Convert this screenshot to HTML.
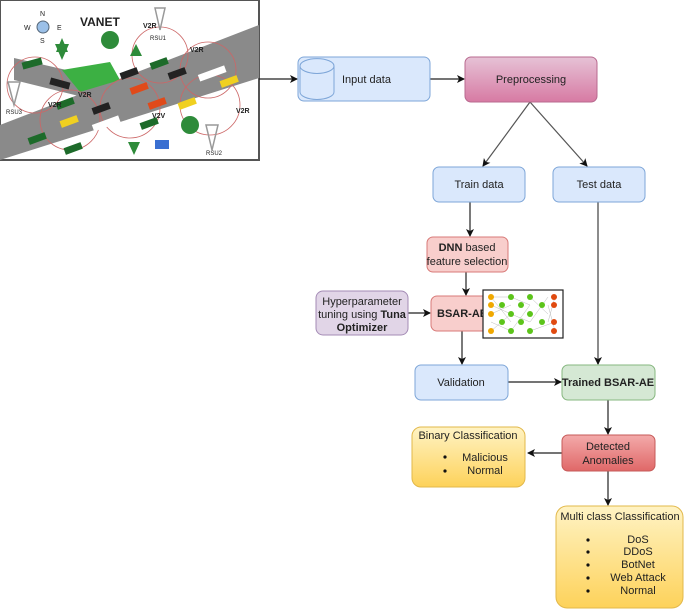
<!DOCTYPE html>
<html><head><meta charset="utf-8"><style>
html,body{margin:0;padding:0;background:#fff}
svg{display:block}
text{font-family:"Liberation Sans",sans-serif;fill:#222}
</style></head><body>
<svg width="685" height="613" viewBox="0 0 685 613" xmlns="http://www.w3.org/2000/svg">
<defs>
<marker id="a" markerWidth="8" markerHeight="8" refX="7" refY="4" orient="auto" markerUnits="userSpaceOnUse"><path d="M0,0 L8,4 L0,8 L2,4 Z" fill="#111"/></marker>
<linearGradient id="pp" x1="0" y1="0" x2="0" y2="1"><stop offset="0" stop-color="#e6c2d6"/><stop offset="1" stop-color="#d77aa3"/></linearGradient>
<linearGradient id="rd" x1="0" y1="0" x2="0" y2="1"><stop offset="0" stop-color="#f3aaaa"/><stop offset="1" stop-color="#e06868"/></linearGradient>
<linearGradient id="yl" x1="0" y1="0" x2="0" y2="1"><stop offset="0" stop-color="#fff3c4"/><stop offset="1" stop-color="#fdd25a"/></linearGradient>
</defs>
<!-- VANET image -->
<rect x="0" y="0" width="259" height="160" fill="#fff" stroke="#555" stroke-width="2"/>
<polygon points="0,125 259,25 259,78 0,160" fill="#8a8a8a"/>
<polygon points="14,58 110,80 95,100 14,80" fill="#8a8a8a"/>
<polygon points="62,70 110,62 120,80 80,92" fill="#3cb043"/>
<g fill="none" stroke="#c66" stroke-width="0.8">
<circle cx="160" cy="55" r="28"/><circle cx="208" cy="70" r="28"/><circle cx="210" cy="105" r="30"/><circle cx="70" cy="120" r="30"/><circle cx="130" cy="108" r="30"/><circle cx="35" cy="85" r="28"/>
</g>
<g>
<rect x="22" y="60" width="20" height="7" fill="#1d6b2a" transform="rotate(-15 32 63)"/>
<rect x="50" y="80" width="20" height="7" fill="#222" transform="rotate(15 60 83)"/>
<rect x="120" y="70" width="18" height="7" fill="#222" transform="rotate(-20 129 73)"/>
<rect x="130" y="85" width="18" height="7" fill="#e04a1a" transform="rotate(-20 139 88)"/>
<rect x="150" y="60" width="18" height="7" fill="#1d6b2a" transform="rotate(-20 159 63)"/>
<rect x="168" y="70" width="18" height="7" fill="#222" transform="rotate(-20 177 73)"/>
<rect x="198" y="70" width="28" height="7" fill="#fff" transform="rotate(-20 212 73)"/>
<rect x="220" y="78" width="18" height="7" fill="#f0d020" transform="rotate(-20 229 81)"/>
<rect x="148" y="100" width="18" height="7" fill="#e04a1a" transform="rotate(-20 157 103)"/>
<rect x="178" y="100" width="18" height="7" fill="#f0d020" transform="rotate(-20 187 103)"/>
<rect x="60" y="118" width="18" height="7" fill="#f0d020" transform="rotate(-20 69 121)"/>
<rect x="92" y="120" width="28" height="7" fill="#fff" transform="rotate(-20 106 123)"/>
<rect x="140" y="120" width="18" height="7" fill="#1d6b2a" transform="rotate(-20 149 123)"/>
<rect x="28" y="135" width="18" height="7" fill="#1d6b2a" transform="rotate(-20 37 138)"/>
<rect x="64" y="145" width="18" height="7" fill="#1d6b2a" transform="rotate(-20 73 148)"/>
<rect x="92" y="105" width="18" height="7" fill="#222" transform="rotate(-20 101 108)"/>
<rect x="56" y="100" width="18" height="7" fill="#1d6b2a" transform="rotate(-20 65 103)"/>
</g>
<g fill="#2e8b3a"><polygon points="62,60 55,44 69,44"/><polygon points="62,38 56,52 68,52"/><circle cx="110" cy="40" r="9"/><circle cx="190" cy="125" r="9"/><polygon points="136,44 130,56 142,56"/><polygon points="134,155 128,142 140,142"/></g>
<g stroke="#999" stroke-width="1.5" fill="none"><path d="M160,30 L155,8 L165,8 Z"/><path d="M14,105 L8,82 L20,82 Z"/><path d="M212,150 L206,125 L218,125 Z"/></g>
<rect x="155" y="140" width="14" height="9" fill="#3a6fd1"/>
<circle cx="43" cy="27" r="6" fill="#9bc0e8" stroke="#567" stroke-width="1"/>
<text x="40" y="16" font-size="7" fill="#567">N</text><text x="40" y="43" font-size="7" fill="#567">S</text><text x="24" y="30" font-size="7" fill="#567">W</text><text x="57" y="30" font-size="7" fill="#567">E</text>
<text x="80" y="26" font-size="12" font-weight="bold">VANET</text>
<text x="143" y="28" font-size="7" font-weight="bold">V2R</text><text x="190" y="52" font-size="7" font-weight="bold">V2R</text>
<text x="78" y="97" font-size="7" font-weight="bold">V2R</text><text x="48" y="107" font-size="7" font-weight="bold">V2R</text>
<text x="236" y="113" font-size="7" font-weight="bold">V2R</text><text x="152" y="118" font-size="7" font-weight="bold">V2V</text>
<text x="150" y="40" font-size="6" fill="#a33">RSU1</text><text x="6" y="114" font-size="6" fill="#a33">RSU3</text><text x="206" y="155" font-size="6" fill="#a33">RSU2</text>

<!-- connectors -->
<g stroke="#222" stroke-width="1.2" fill="none">
<line x1="259" y1="79" x2="297" y2="79" marker-end="url(#a)"/>
<line x1="430" y1="79" x2="464" y2="79" marker-end="url(#a)"/>
<line x1="530" y1="102" x2="483" y2="166" stroke="#555" marker-end="url(#a)"/>
<line x1="530" y1="102" x2="587" y2="166" stroke="#555" marker-end="url(#a)"/>
<line x1="470" y1="202" x2="470" y2="236" marker-end="url(#a)"/>
<line x1="466" y1="272" x2="466" y2="295" marker-end="url(#a)"/>
<line x1="408" y1="313" x2="430" y2="313" marker-end="url(#a)"/>
<line x1="462" y1="331" x2="462" y2="364" marker-end="url(#a)"/>
<line x1="508" y1="382" x2="561" y2="382" marker-end="url(#a)"/>
<line x1="598" y1="202" x2="598" y2="364" stroke="#666" stroke-width="1.5" marker-end="url(#a)"/>
<line x1="608" y1="400" x2="608" y2="434" marker-end="url(#a)"/>
<line x1="562" y1="453" x2="528" y2="453" marker-end="url(#a)"/>
<line x1="608" y1="471" x2="608" y2="505" marker-end="url(#a)"/>
</g>

<!-- boxes -->
<rect x="298" y="57" width="132" height="44" rx="6" fill="#dae8fc" stroke="#7ea6d8"/>
<path d="M300,66 a16,7 0 0 1 34,0 v26 a16,7 0 0 1 -34,0 Z" fill="#dae8fc" stroke="#7ea6d8"/>
<path d="M300,66 a16,7 0 0 0 34,0" fill="none" stroke="#7ea6d8"/>
<text x="342" y="83" font-size="11">Input data</text>
<rect x="465" y="57" width="132" height="45" rx="6" fill="url(#pp)" stroke="#b86a8f"/>
<text x="531" y="83" font-size="11" text-anchor="middle">Preprocessing</text>
<rect x="433" y="167" width="92" height="35" rx="6" fill="#dae8fc" stroke="#7ea6d8"/>
<text x="479" y="188" font-size="11" text-anchor="middle">Train data</text>
<rect x="553" y="167" width="92" height="35" rx="6" fill="#dae8fc" stroke="#7ea6d8"/>
<text x="599" y="188" font-size="11" text-anchor="middle">Test data</text>
<rect x="427" y="237" width="81" height="35" rx="6" fill="#f8cecc" stroke="#d87a78"/>
<text x="467" y="251" font-size="11" text-anchor="middle"><tspan font-weight="bold">DNN</tspan> based</text>
<text x="467" y="265" font-size="11" text-anchor="middle">feature selection</text>
<rect x="316" y="291" width="92" height="44" rx="7" fill="#e1d5e7" stroke="#a48bb5"/>
<text x="362" y="305" font-size="11" text-anchor="middle">Hyperparameter</text>
<text x="362" y="318" font-size="11" text-anchor="middle">tuning using <tspan font-weight="bold">Tuna</tspan></text>
<text x="362" y="331" font-size="11" text-anchor="middle" font-weight="bold">Optimizer</text>
<rect x="431" y="296" width="70" height="35" rx="6" fill="#f8cecc" stroke="#d87a78"/>
<text x="437" y="317" font-size="11" font-weight="bold">BSAR-AE</text>
<!-- NN image -->
<rect x="483" y="290" width="80" height="48" fill="#fff" stroke="#222" stroke-width="1.2"/>
<g stroke="#bbb" stroke-width="0.5">
<path d="M491,297 L511,297 M491,297 L511,322 M491,305 L511,314 M491,314 L511,305 M491,322 L511,331 M491,331 L511,314 M511,297 L530,305 M511,314 L530,322 M511,331 L530,305 M530,297 L548,314 M530,322 L548,297 M530,331 L555,322 M548,305 L555,331 M548,322 L555,297"/>
</g>
<g fill="#f0a800"><circle cx="491" cy="297" r="3"/><circle cx="491" cy="305" r="3"/><circle cx="491" cy="314" r="3"/><circle cx="491" cy="331" r="3"/></g>
<g fill="#5cc41a"><circle cx="502" cy="305" r="3"/><circle cx="502" cy="322" r="3"/><circle cx="511" cy="297" r="3"/><circle cx="511" cy="314" r="3"/><circle cx="511" cy="331" r="3"/><circle cx="521" cy="305" r="3"/><circle cx="521" cy="322" r="3"/><circle cx="530" cy="297" r="3"/><circle cx="530" cy="314" r="3"/><circle cx="530" cy="331" r="3"/><circle cx="542" cy="305" r="3"/><circle cx="542" cy="322" r="3"/></g>
<g fill="#e04a10"><circle cx="554" cy="297" r="3"/><circle cx="554" cy="305" r="3"/><circle cx="554" cy="322" r="3"/><circle cx="554" cy="331" r="3"/></g>
<rect x="415" y="365" width="93" height="35" rx="6" fill="#dae8fc" stroke="#7ea6d8"/>
<text x="461" y="386" font-size="11" text-anchor="middle">Validation</text>
<rect x="562" y="365" width="93" height="35" rx="6" fill="#d5e8d4" stroke="#86b77f"/>
<text x="608" y="386" font-size="11" text-anchor="middle" font-weight="bold">Trained BSAR-AE</text>
<rect x="562" y="435" width="93" height="36" rx="6" fill="url(#rd)" stroke="#c65a58"/>
<text x="608" y="450" font-size="11" text-anchor="middle">Detected</text>
<text x="608" y="464" font-size="11" text-anchor="middle">Anomalies</text>
<rect x="412" y="427" width="113" height="60" rx="9" fill="url(#yl)" stroke="#e2b84a"/>
<text x="468" y="439" font-size="11" text-anchor="middle">Binary Classification</text>
<circle cx="445" cy="457" r="1.6" fill="#111"/><circle cx="445" cy="471" r="1.6" fill="#111"/>
<text x="485" y="461" font-size="11" text-anchor="middle">Malicious</text>
<text x="485" y="474" font-size="11" text-anchor="middle">Normal</text>
<rect x="556" y="506" width="127" height="102" rx="11" fill="url(#yl)" stroke="#e2b84a"/>
<text x="620" y="520" font-size="11" text-anchor="middle">Multi class Classification</text>
<g fill="#111"><circle cx="588" cy="540" r="1.6"/><circle cx="588" cy="552" r="1.6"/><circle cx="588" cy="565" r="1.6"/><circle cx="588" cy="578" r="1.6"/><circle cx="588" cy="591" r="1.6"/></g>
<g font-size="11" text-anchor="middle"><text x="638" y="543">DoS</text><text x="638" y="555">DDoS</text><text x="638" y="568">BotNet</text><text x="638" y="581">Web Attack</text><text x="638" y="594">Normal</text></g>
</svg>
</body></html>
